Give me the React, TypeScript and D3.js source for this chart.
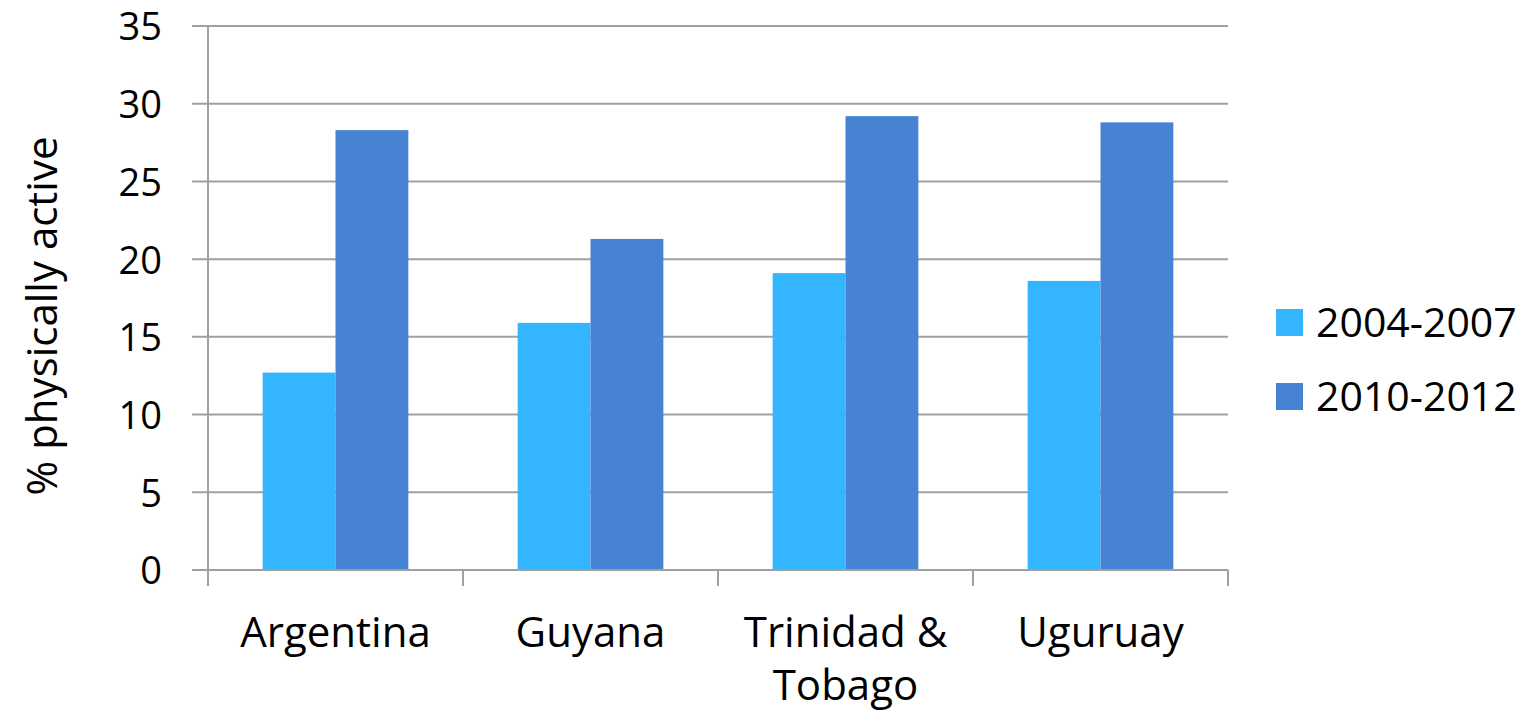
import React from "react";
import * as d3 from "d3";

const categories = ["Argentina", "Guyana", "Trinidad & Tobago", "Uguruay"];
const categoryLines = [["Argentina"], ["Guyana"], ["Trinidad &", "Tobago"], ["Uguruay"]];
const seriesNames = ["2004-2007", "2010-2012"];
const series1 = [12.7, 15.9, 19.1, 18.6];
const series2 = [28.3, 21.3, 29.2, 28.8];
const colors = ["#33B5FF", "#4684D3"];
const yTicks = [0, 5, 10, 15, 20, 25, 30, 35];
const yLabel = "% physically active";

const W = 1526, H = 715;
const left = 208, right = 1228, top = 26, bottom = 570;
const FONT = "'Open Sans', sans-serif";

export default function App() {
  const x = d3.scaleBand<string>().domain(categories).range([left, right]).paddingInner(0).paddingOuter(0);
  const y = d3.scaleLinear().domain([0, 35]).range([bottom, top]);
  const bw = x.bandwidth() / 3.5;
  const allSeries = [series1, series2];
  return (
    <svg width={W} height={H} style={{ position: "absolute", left: 0, top: 0, background: "#fff" }}>
      {yTicks.map((t) => (
        <g key={t}>
          <line x1={192} x2={right} y1={y(t)} y2={y(t)} stroke="#a0a0a0" strokeWidth={2} />
          <text x={162} y={y(t)} dy="0.38em" textAnchor="end" fontFamily={FONT} fontSize={38} fill="#000">{t}</text>
        </g>
      ))}
      {allSeries.map((s, si) =>
        s.map((v, i) => (
          <rect key={si + "-" + i} x={(x(categories[i]) as number) + bw * 0.75 + si * bw} y={y(v)} width={bw} height={y(0) - y(v)} fill={colors[si]} />
        ))
      )}
      <line x1={left} x2={left} y1={top} y2={586} stroke="#a0a0a0" strokeWidth={2} />
      <line x1={left} x2={right} y1={bottom} y2={bottom} stroke="#a0a0a0" strokeWidth={2} />
      {categories.map((c) => (
        <line key={c} x1={(x(c) as number) + x.bandwidth()} x2={(x(c) as number) + x.bandwidth()} y1={bottom} y2={586} stroke="#a0a0a0" strokeWidth={2} />
      ))}
      {categories.map((c, i) => (
        <text key={c} x={(x(c) as number) + x.bandwidth() / 2} y={647} textAnchor="middle" fontFamily={FONT} fontSize={42} fill="#000">
          {categoryLines[i].map((l, j) => (
            <tspan key={j} x={(x(c) as number) + x.bandwidth() / 2} dy={j === 0 ? 0 : 53}>{l}</tspan>
          ))}
        </text>
      ))}
      <text transform={`translate(57, ${(top + bottom) / 2 + 18}) rotate(-90)`} textAnchor="middle" fontFamily={FONT} fontSize={42} fill="#000">{yLabel}</text>
      {seriesNames.map((n, i) => (
        <g key={n}>
          <rect x={1276} y={309 + i * 74} width={27} height={27} fill={colors[i]} />
          <text x={1316} y={337 + i * 74} fontFamily={FONT} fontSize={41} fill="#000">{n}</text>
        </g>
      ))}
    </svg>
  );
}
